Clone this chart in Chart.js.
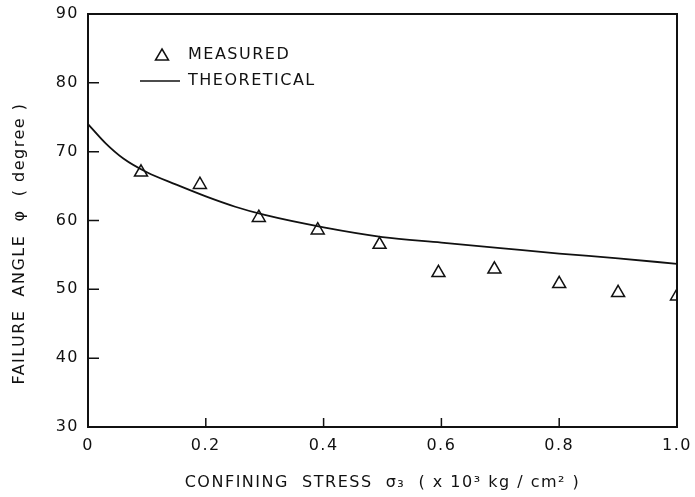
<!DOCTYPE html>
<html>
<head>
<meta charset="utf-8">
<script src="https://cdn.jsdelivr.net/npm/chart.js@4.4.1/dist/chart.umd.min.js"></script>
<style>
  html, body { margin: 0; padding: 0; background: #fff; }
  #wrap { width: 695px; height: 497px; }
</style>
</head>
<body>
<div id="wrap"><canvas id="angleChart" width="695" height="497"></canvas></div>
<script>
// measured failure angles (triangles)
const measuredStress = [0.09, 0.19, 0.29, 0.39, 0.495, 0.595, 0.69, 0.80, 0.90, 1.0];
const measuredAngle = [67.0, 65.2, 60.4, 58.6, 56.5, 52.4, 52.9, 50.8, 49.5, 49.0];

// theoretical curve
const theoryStress = [0, 0.03, 0.06, 0.1, 0.15, 0.2, 0.25, 0.3, 0.4, 0.5, 0.6, 0.7, 0.8, 0.9, 1.0];
const theoryAngle = [74.0, 71.2, 69.0, 67.0, 65.2, 63.5, 62.0, 60.8, 59.0, 57.6, 56.8, 56.0, 55.2, 54.5, 53.7];

const xTicks = [0, 0.2, 0.4, 0.6, 0.8, 1.0];
const yTicks = [30, 40, 50, 60, 70, 80, 90];

const ink = "#111";
const fontFamily = "'DejaVu Sans', sans-serif";
const spacing = "1.5px";

const toPoints = (xs, ys) => xs.map((x, i) => ({ x: x, y: ys[i] }));

const canvas = document.getElementById("angleChart");

// the old lettering is widely spaced; canvas resets clear it, so set it again
const spacingPlugin = {
  id: "spacing",
  beforeUpdate(chart) { chart.ctx.letterSpacing = spacing; },
  beforeDraw(chart) { chart.ctx.letterSpacing = spacing; }
};

// frame, inward ticks and the legend box
const framePlugin = {
  id: "frame",
  afterDatasetsDraw(chart) {
    const ctx = chart.ctx;
    const area = chart.chartArea;
    const xs = chart.scales.x;
    const ys = chart.scales.y;
    ctx.save();
    ctx.strokeStyle = ink;
    ctx.lineWidth = 2;
    ctx.strokeRect(area.left, area.top, area.right - area.left, area.bottom - area.top);

    ctx.lineWidth = 1.5;
    ctx.beginPath();
    yTicks.slice(1, -1).forEach(v => {
      const py = ys.getPixelForValue(v);
      ctx.moveTo(area.left, py);
      ctx.lineTo(area.left + 11, py);
    });
    xTicks.slice(1, -1).forEach(v => {
      const px = xs.getPixelForValue(v);
      ctx.moveTo(px, area.bottom);
      ctx.lineTo(px, area.bottom - 9);
    });
    ctx.stroke();

    // legend
    const lx = area.left + 74;
    const ly = area.top + 41;
    ctx.font = "16px " + fontFamily;
    ctx.letterSpacing = spacing;
    ctx.fillStyle = ink;
    ctx.textBaseline = "middle";

    ctx.lineWidth = 1.5;
    ctx.beginPath();
    ctx.moveTo(lx, ly - 6);
    ctx.lineTo(lx + 6.5, ly + 5);
    ctx.lineTo(lx - 6.5, ly + 5);
    ctx.closePath();
    ctx.stroke();
    ctx.fillText("MEASURED", lx + 26, ly);

    ctx.beginPath();
    ctx.moveTo(lx - 22, ly + 26);
    ctx.lineTo(lx + 18, ly + 26);
    ctx.stroke();
    ctx.fillText("THEORETICAL", lx + 26, ly + 26);
    ctx.restore();
  }
};

new Chart(canvas, {
  type: "scatter",
  data: {
    datasets: [
      {
        label: "THEORETICAL",
        data: toPoints(theoryStress, theoryAngle),
        showLine: true,
        borderColor: ink,
        borderWidth: 1.8,
        pointRadius: 0,
        cubicInterpolationMode: "monotone",
        fill: false
      },
      {
        label: "MEASURED",
        data: toPoints(measuredStress, measuredAngle),
        pointStyle: "triangle",
        pointRadius: 7.5,
        pointBorderWidth: 1.5,
        pointBorderColor: ink,
        pointBackgroundColor: "#fff",
        showLine: false
      }
    ]
  },
  options: {
    responsive: false,
    animation: false,
    layout: { padding: { left: 0, right: 18, top: 14, bottom: 0 } },
    plugins: {
      legend: { display: false },
      tooltip: { enabled: false }
    },
    scales: {
      x: {
        type: "linear",
        min: 0,
        max: 1.0,
        afterFit: scale => {
          scale.height = 70;
          scale.paddingLeft = 0;
          scale.paddingRight = 0;
        },
        afterBuildTicks: scale => { scale.ticks = xTicks.map(v => ({ value: v })); },
        grid: { display: false, drawTicks: false },
        border: { display: false },
        ticks: {
          color: ink,
          padding: 9,
          font: { family: fontFamily, size: 16 },
          callback: v => (v === 0 ? "0" : v.toFixed(1))
        },
        title: {
          display: true,
          text: "CONFINING  STRESS  σ₃  ( x 10³ kg / cm² )",
          color: ink,
          font: { family: fontFamily, size: 16 },
          padding: { top: 0, bottom: 5 }
        }
      },
      y: {
        type: "linear",
        min: 30,
        max: 90,
        afterFit: scale => {
          scale.width = 88;
          scale.paddingTop = 0;
          scale.paddingBottom = 0;
        },
        afterBuildTicks: scale => { scale.ticks = yTicks.map(v => ({ value: v })); },
        grid: { display: false, drawTicks: false },
        border: { display: false },
        ticks: {
          color: ink,
          padding: 9,
          font: { family: fontFamily, size: 16 }
        },
        title: {
          display: true,
          text: "FAILURE  ANGLE  φ  ( degree )       ",
          color: ink,
          font: { family: fontFamily, size: 16 },
          padding: { top: 10, bottom: 0 }
        }
      }
    }
  },
  plugins: [spacingPlugin, framePlugin]
});
</script>
</body>
</html>
